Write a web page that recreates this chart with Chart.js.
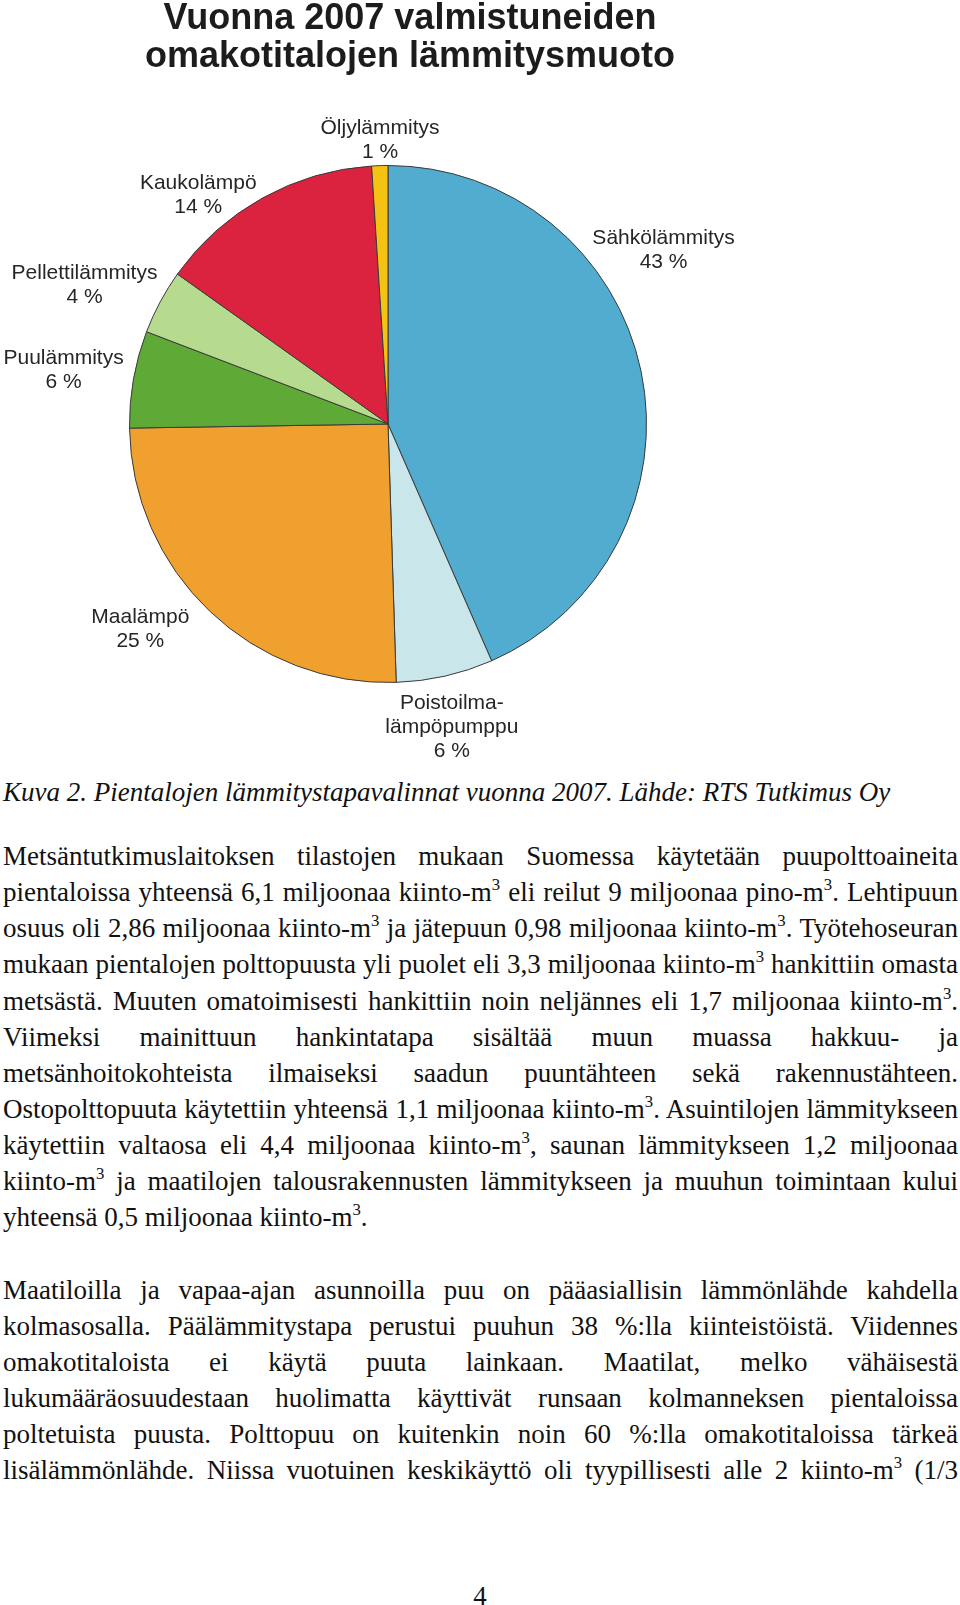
<!DOCTYPE html>
<html lang="fi">
<head>
<meta charset="utf-8">
<title>Lämmitysmuoto 2007</title>
<script src="https://cdn.jsdelivr.net/npm/chart.js@4.4.1/dist/chart.umd.min.js"></script>
<style>
  html, body { margin: 0; padding: 0; background: #fff; }
  body { width: 960px; height: 1605px; position: relative; overflow: hidden; }
  #pie { position: absolute; left: 0; top: 0; }
  .txt {
    position: absolute; left: 3px; width: 955px;
    font-family: "Liberation Serif", "Times New Roman", serif;
    font-size: 27px; line-height: 36.13px; color: #111;
  }
  .txt .ln { text-align: justify; text-align-last: justify; }
  .txt .ln.end { text-align-last: left; }
  .caption { font-style: italic; }
  sup { font-size: 0.62em; line-height: 0; vertical-align: 0.66em; }
  .pagenum { position: absolute; left: 0; width: 960px; text-align: center; }
</style>
</head>
<body>
<canvas id="pie" width="960" height="770"></canvas>

<div class="txt caption" style="top:774px">Kuva 2. Pientalojen lämmitystapavalinnat vuonna 2007. Lähde: RTS Tutkimus Oy</div>

<div class="txt" style="top:838px">
  <div class="ln">Metsäntutkimuslaitoksen tilastojen mukaan Suomessa käytetään puupolttoaineita</div>
  <div class="ln">pientaloissa yhteensä 6,1 miljoonaa kiinto-m<sup>3</sup> eli reilut 9 miljoonaa pino-m<sup>3</sup>. Lehtipuun</div>
  <div class="ln">osuus oli 2,86 miljoonaa kiinto-m<sup>3</sup> ja jätepuun 0,98 miljoonaa kiinto-m<sup>3</sup>. Työtehoseuran</div>
  <div class="ln">mukaan pientalojen polttopuusta yli puolet eli 3,3 miljoonaa kiinto-m<sup>3</sup> hankittiin omasta</div>
  <div class="ln">metsästä. Muuten omatoimisesti hankittiin noin neljännes eli 1,7 miljoonaa kiinto-m<sup>3</sup>.</div>
  <div class="ln">Viimeksi mainittuun hankintatapa sisältää muun muassa hakkuu- ja</div>
  <div class="ln">metsänhoitokohteista ilmaiseksi saadun puuntähteen sekä rakennustähteen.</div>
  <div class="ln">Ostopolttopuuta käytettiin yhteensä 1,1 miljoonaa kiinto-m<sup>3</sup>. Asuintilojen lämmitykseen</div>
  <div class="ln">käytettiin valtaosa eli 4,4 miljoonaa kiinto-m<sup>3</sup>, saunan lämmitykseen 1,2 miljoonaa</div>
  <div class="ln">kiinto-m<sup>3</sup> ja maatilojen talousrakennusten lämmitykseen ja muuhun toimintaan kului</div>
  <div class="ln end">yhteensä 0,5 miljoonaa kiinto-m<sup>3</sup>.</div>
</div>

<div class="txt" style="top:1271.6px">
  <div class="ln">Maatiloilla ja vapaa-ajan asunnoilla puu on pääasiallisin lämmönlähde kahdella</div>
  <div class="ln">kolmasosalla. Päälämmitystapa perustui puuhun 38 %:lla kiinteistöistä. Viidennes</div>
  <div class="ln">omakotitaloista ei käytä puuta lainkaan. Maatilat, melko vähäisestä</div>
  <div class="ln">lukumääräosuudestaan huolimatta käyttivät runsaan kolmanneksen pientaloissa</div>
  <div class="ln">poltetuista puusta. Polttopuu on kuitenkin noin 60 %:lla omakotitaloissa tärkeä</div>
  <div class="ln">lisälämmönlähde. Niissa vuotuinen keskikäyttö oli tyypillisesti alle 2 kiinto-m<sup>3</sup> (1/3</div>
</div>

<div class="txt pagenum" style="top:1578px; left:0; width:960px;">4</div>

<script>
// --- data ---
const categories = ["Sähkölämmitys", "Poistoilmalämpöpumppu", "Maalämpö", "Puulämmitys",
                    "Pellettilämmitys", "Kaukolämpö", "Öljylämmitys"];
const labelLines = [["Sähkölämmitys"], ["Poistoilma-", "lämpöpumppu"], ["Maalämpö"], ["Puulämmitys"],
                    ["Pellettilämmitys"], ["Kaukolämpö"], ["Öljylämmitys"]];
const shares = [43, 6, 25, 6, 4, 14, 1];   // %
const sliceColors = ["#51acd0", "#c9e6ea", "#f0a02f", "#5faa36", "#b6db8f", "#db2340", "#f5c214"];
const titleLines = ["Vuonna 2007 valmistuneiden", "omakotitalojen lämmitysmuoto"];

// label spots relative to pie centre, in units of the radius
const labelSpots = [[1.066, -0.672], [0.247, 1.174], [-0.958, 0.795], [-1.255, -0.207],
                    [-1.174, -0.537], [-0.734, -0.884], [-0.031, -1.097]];

// title + slice labels drawn on top of the pie
const pieText = {
  id: "pieText",
  afterDraw(chart) {
    const ctx = chart.ctx;
    const arc = chart.getDatasetMeta(0).data[0];
    const cx = arc.x, cy = arc.y, r = arc.outerRadius;
    ctx.save();
    ctx.fillStyle = "#1c1c1c";
    ctx.textAlign = "center";

    ctx.font = 'bold 36px "Liberation Sans", Arial, sans-serif';
    ctx.textBaseline = "alphabetic";
    ctx.fillText(titleLines[0], 410, 29);
    ctx.fillText(titleLines[1], 410, 67);

    ctx.font = '21px "Liberation Sans", Arial, sans-serif';
    ctx.fillStyle = "#262626";
    ctx.textBaseline = "middle";
    const gap = 24;
    categories.forEach((c, i) => {
      const lines = [...labelLines[i], shares[i] + " %"];
      const x = cx + labelSpots[i][0] * r;
      const y0 = cy + labelSpots[i][1] * r - (lines.length - 1) * gap / 2;
      lines.forEach((t, k) => ctx.fillText(t, x, y0 + k * gap));
    });
    ctx.restore();
  }
};

new Chart(document.getElementById("pie"), {
  type: "pie",
  data: {
    labels: categories,
    datasets: [{
      data: shares,
      backgroundColor: sliceColors,
      borderColor: "#3a3a3a",
      borderWidth: 1
    }]
  },
  options: {
    responsive: false,
    animation: false,
    devicePixelRatio: 1,
    layout: { padding: { left: 129, right: 313, top: 165, bottom: 87 } },
    plugins: {
      legend: { display: false },
      tooltip: { enabled: false }
    }
  },
  plugins: [pieText]
});
</script>
</body>
</html>
